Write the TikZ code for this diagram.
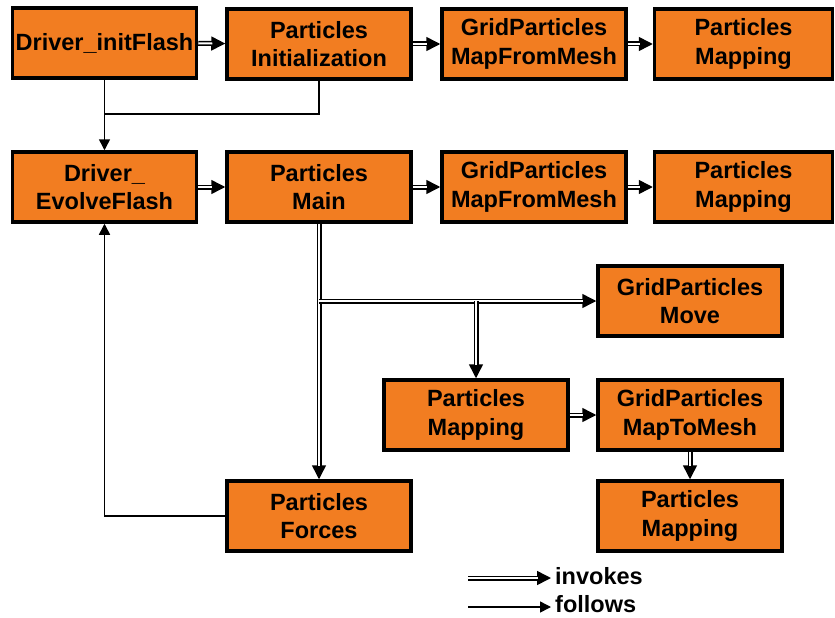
\documentclass[tikz,border=0pt]{standalone}
\usepackage{fontspec}
\setmainfont{Liberation Sans}
\usetikzlibrary{arrows.meta}
\definecolor{boxorange}{RGB}{242,125,33}
\tikzset{
  box/.style={draw=black, line width=3.5pt, fill=boxorange, minimum width=184pt, minimum height=70pt,
    inner sep=0pt, align=center, font=\bfseries\fontsize{23.5pt}{28.5pt}\selectfont},
  invtip/.style={draw=black, line width=1.5pt, -{Triangle[length=14pt,width=14pt]}},
  invline/.style={draw=black, double=white, double distance=2pt, line width=1.5pt, shorten >=13pt},
  fol/.style={draw=black, line width=1.5pt, -{Triangle[length=11pt,width=11pt]}},
  folline/.style={draw=black, line width=1.5pt},
  legtext/.style={anchor=west, inner sep=0pt, font=\bfseries\fontsize{23.5pt}{28.5pt}\selectfont}
}
\newcommand\invarrow[2]{\draw[invtip] (#1) -- (#2); \draw[invline] (#1) -- (#2);}
\begin{document}
\begin{tikzpicture}[x=1pt,y=-1pt]
\useasboundingbox (0,0) rectangle (835,618);
% row 1
\node[box] (dinit) at (104.5,43) {Driver\_initFlash};
\node[box] (pinit) at (319,44) {Particles\\Initialization};
\node[box] (gmf1) at (534,44) {GridParticles\\MapFromMesh};
\node[box, minimum width=178pt] (pmap1) at (743.5,44) {Particles\\Mapping};
% row 2
\node[box] (devol) at (104.5,187) {Driver\_\\EvolveFlash};
\node[box] (pmain) at (319,187) {Particles\\Main};
\node[box] (gmf2) at (534,187) {GridParticles\\MapFromMesh};
\node[box, minimum width=178pt] (pmap2) at (743.5,187) {Particles\\Mapping};
% middle
\node[box] (gmove) at (690,301) {GridParticles\\Move};
\node[box] (pmap3) at (476,415) {Particles\\Mapping};
\node[box] (gmtm) at (690,415) {GridParticles\\MapToMesh};
% bottom
\node[box] (pforce) at (319,516) {Particles\\Forces};
\node[box] (pmap4) at (690,516) {Particles\\Mapping};

% invokes row 1
\invarrow{dinit}{pinit}
\invarrow{pinit}{gmf1}
\invarrow{gmf1}{pmap1}
% invokes row 2
\invarrow{devol}{pmain}
\invarrow{pmain}{gmf2}
\invarrow{gmf2}{pmap2}
% follows from init
\coordinate (j1) at (104.5,114);
\draw[folline] (pinit.south) |- (j1);
\draw[fol] (dinit) -- (devol);
% main branches
\coordinate (b1) at (pmain.south |- gmove.west);
\coordinate (b2) at (pmap3.north |- gmove.west);
\invarrow{pmain}{pforce}
\invarrow{b1}{gmove}
\invarrow{b2}{pmap3}
\invarrow{pmap3}{gmtm}
\invarrow{gmtm}{pmap4}
% forces back to evolve
\draw[fol] (pforce.west) -| (devol.south);
% legend
\coordinate (l1) at (468,578);
\coordinate (l2) at (551,578);
\coordinate (l3) at (468,607);
\coordinate (l4) at (551,607);
\invarrow{l1}{l2}
\draw[fol] (l3) -- (l4);
\node[legtext] (tinv) at (555,576) {invokes};
\node[legtext] (tfol) at (555,604) {follows};
\end{tikzpicture}
\end{document}
